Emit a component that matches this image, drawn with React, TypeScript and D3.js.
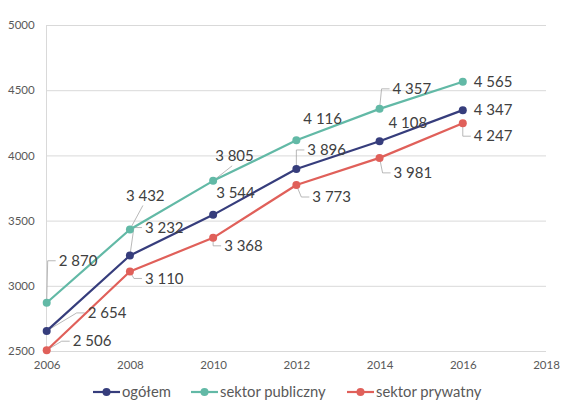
import { useEffect, useRef } from 'react'
import * as d3 from 'd3'

const years = [2006, 2008, 2010, 2012, 2014, 2016]
const ogolem = [2654, 3232, 3544, 3896, 4108, 4347]
const publiczny = [2870, 3432, 3805, 4116, 4357, 4565]
const prywatny = [2506, 3110, 3368, 3773, 3981, 4247]
const yTicks = [2500, 3000, 3500, 4000, 4500, 5000]
const xTicks = [2006, 2008, 2010, 2012, 2014, 2016, 2018]

// label placement relative to the point: [dx, dy, leader]
type Lbl = [number, number, 'none' | 'side' | 'bottom']
const ogolemLabels: Lbl[] = [
  [41, -18, 'side'],
  [15, -28, 'side'],
  [3, -22, 'none'],
  [11, -19, 'side'],
  [9, -19, 'none'],
  [11, 0, 'none'],
]
const publicznyLabels: Lbl[] = [
  [12, -42, 'side'],
  [-4, -34, 'bottom'],
  [2, -25, 'bottom'],
  [7, -22, 'none'],
  [13, -20, 'side'],
  [11, 0, 'none'],
]
const prywatnyLabels: Lbl[] = [
  [26, -9, 'side'],
  [15, 7, 'side'],
  [11, 8, 'side'],
  [16, 12, 'side'],
  [14, 15, 'side'],
  [11, 13, 'side'],
]

const series = [
  { name: 'ogółem', values: ogolem, color: '#363d7c', labels: ogolemLabels },
  { name: 'sektor publiczny', values: publiczny, color: '#62b9a6', labels: publicznyLabels },
  { name: 'sektor prywatny', values: prywatny, color: '#e0605a', labels: prywatnyLabels },
]

const FONT = 'Lato, "Noto Sans", sans-serif'

export default function App() {
  const svgRef = useRef<SVGSVGElement>(null)

  useEffect(() => {
    if (!svgRef.current) return
    const width = 572
    const height = 413
    const svg = d3.select(svgRef.current)
    svg.selectAll('*').remove()

    const x = d3.scaleLinear([2006, 2018], [46.7, 546])
    const y = d3.scaleLinear([2500, 5000], [351, 25])

    // Gridlines
    svg
      .append('g')
      .selectAll('line')
      .data(yTicks)
      .join('line')
      .attr('x1', x(2006))
      .attr('x2', x(2018))
      .attr('y1', (d) => y(d) + 0.5)
      .attr('y2', (d) => y(d) + 0.5)
      .attr('stroke', '#d9d9d9')
      .attr('stroke-width', 1)

    svg
      .append('line')
      .attr('x1', x(2006) - 0.2)
      .attr('x2', x(2006) - 0.2)
      .attr('y1', y(5000))
      .attr('y2', y(2500))
      .attr('stroke', '#d9d9d9')

    // Axes
    const yAxis = svg
      .append('g')
      .attr('transform', `translate(${x(2006)},0)`)
      .call(d3.axisLeft(y).tickValues(yTicks).tickSize(0).tickPadding(12).tickFormat((d) => String(d)))
    yAxis.select('.domain').remove()
    yAxis.selectAll('text').attr('fill', '#595959').attr('font-size', 11.5).attr('font-family', FONT)

    const xAxis = svg
      .append('g')
      .attr('transform', `translate(0,${y(2500)})`)
      .call(d3.axisBottom(x).tickValues(xTicks).tickSize(0).tickPadding(10).tickFormat((d) => String(d)))
    xAxis.select('.domain').remove()
    xAxis.selectAll('text').attr('fill', '#595959').attr('font-size', 11.5).attr('font-family', FONT)

    const fmt = (v: number) => d3.format(',')(v).replace(',', ' ')

    // Leader lines
    const leaders = svg.append('g')
    series.forEach((s) => {
      s.values.forEach((v, i) => {
        const [dx, dy, mode] = s.labels[i]
        const px = x(years[i])
        const py = y(v)
        const lx = px + dx
        const ly = py + dy
        if (mode === 'side') {
          leaders
            .append('path')
            .attr('d', d3.line()([[px, py], [lx - 11, ly], [lx - 3, ly]]))
            .attr('fill', 'none')
            .attr('stroke', '#a6a6a6')
            .attr('stroke-width', 0.8)
        } else if (mode === 'bottom') {
          leaders
            .append('path')
            .attr('d', d3.line()([[px, py], [lx + 17, ly + 10]]))
            .attr('fill', 'none')
            .attr('stroke', '#a6a6a6')
            .attr('stroke-width', 0.8)
        }
      })
    })

    // Lines and markers
    const line = d3
      .line<number>()
      .x((_, i) => x(years[i]))
      .y((d) => y(d))

    series.forEach((s) => {
      svg
        .append('path')
        .datum(s.values)
        .attr('d', line)
        .attr('fill', 'none')
        .attr('stroke', s.color)
        .attr('stroke-width', 2.2)
        .attr('stroke-linejoin', 'round')
      svg
        .append('g')
        .selectAll('circle')
        .data(s.values)
        .join('circle')
        .attr('cx', (_, i) => x(years[i]))
        .attr('cy', (d) => y(d))
        .attr('r', 4)
        .attr('fill', s.color)
    })

    // Value labels
    series.forEach((s) => {
      svg
        .append('g')
        .selectAll('text')
        .data(s.values)
        .join('text')
        .attr('x', (_, i) => x(years[i]) + s.labels[i][0])
        .attr('y', (d, i) => y(d) + s.labels[i][1])
        .attr('dy', '0.35em')
        .attr('fill', '#404040')
        .attr('font-size', 15)
        .attr('font-family', FONT)
        .text((d) => fmt(d))
    })

    // Legend
    const legendX = [93, 191, 347]
    const legend = svg
      .append('g')
      .selectAll('g')
      .data(series)
      .join('g')
      .attr('transform', (_, i) => `translate(${legendX[i]},392)`)
    legend
      .append('line')
      .attr('x1', 0)
      .attr('x2', 27)
      .attr('stroke', (d) => d.color)
      .attr('stroke-width', 2.2)
    legend
      .append('circle')
      .attr('cx', 13.5)
      .attr('r', 4)
      .attr('fill', (d) => d.color)
    legend
      .append('text')
      .attr('x', 29)
      .attr('dy', '0.35em')
      .attr('fill', '#595959')
      .attr('font-size', 14.8)
      .attr('font-family', FONT)
      .text((d) => d.name)

    svg.attr('width', width).attr('height', height)
  }, [])

  return (
    <svg
      ref={svgRef}
      style={{ position: 'absolute', left: 0, top: 0, background: '#fff' }}
    />
  )
}
